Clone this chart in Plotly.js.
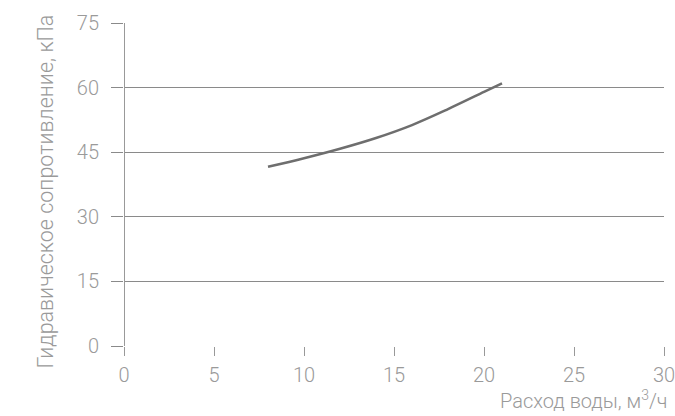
<!DOCTYPE html>
<html><head><meta charset="utf-8">
<script src="https://cdn.plot.ly/plotly-3.0.1.min.js"></script>
<style>body{margin:0;}#c{width:675px;height:416px;}</style>
</head><body><div id="c"></div>
<script>
const flow = [8, 10, 12, 14, 16, 18, 20, 21];
const resistance = [41.6, 43.6, 45.8, 48.3, 51.3, 55.0, 59.0, 61.0];
const xTicks = [0, 5, 10, 15, 20, 25, 30];
const yTicks = [0, 15, 30, 45, 60, 75];
const xTitle = 'Расход воды, м<sup>3</sup>/ч';
const yTitle = 'Гидравическое сопротивление, кПа';

const fnt = {family: 'Roboto, sans-serif', size: 20, color: '#9a9a9a', weight: 300};
const yfnt = {family: 'Roboto, sans-serif', size: 21.5, color: '#9a9a9a', weight: 300};
Plotly.newPlot('c', [{
  x: flow, y: resistance, type: 'scatter', mode: 'lines',
  line: {color: '#6e6e6e', width: 2.5, shape: 'spline'}
}], {
  width: 675, height: 416,
  margin: {l: 124, r: 11, t: 23, b: 70},
  paper_bgcolor: '#ffffff', plot_bgcolor: '#ffffff',
  showlegend: false,
  font: fnt,
  xaxis: {range: [0, 30], tickvals: xTicks, showgrid: false, zeroline: true, zerolinecolor: '#999999', zerolinewidth: 1,
    showline: false, ticks: 'outside', ticklen: 9, tickcolor: '#999999', tickwidth: 1, tickfont: fnt,
    ticklabelstandoff: 2, ticklabeloverflow: 'allow', fixedrange: true},
  yaxis: {range: [0, 75], tickvals: yTicks, showgrid: true, gridcolor: '#8a8a8a', gridwidth: 1, zeroline: false,
    showline: false, ticks: 'outside', ticklen: 12, tickcolor: '#8a8a8a', tickfont: fnt, ticklabelstandoff: 8,
    fixedrange: true},
  annotations: [
    {text: xTitle, xref: 'paper', yref: 'paper', x: 1, y: 0, xanchor: 'right', yanchor: 'top',
     xshift: 6, yshift: -39, showarrow: false, font: fnt},
    {text: yTitle, xref: 'paper', yref: 'paper', x: 0, y: 0.5, xanchor: 'center', yanchor: 'middle',
     xshift: -79, yshift: -7, textangle: -90, showarrow: false, font: yfnt}
  ]
}, {displayModeBar: false, staticPlot: true});
</script></body></html>
